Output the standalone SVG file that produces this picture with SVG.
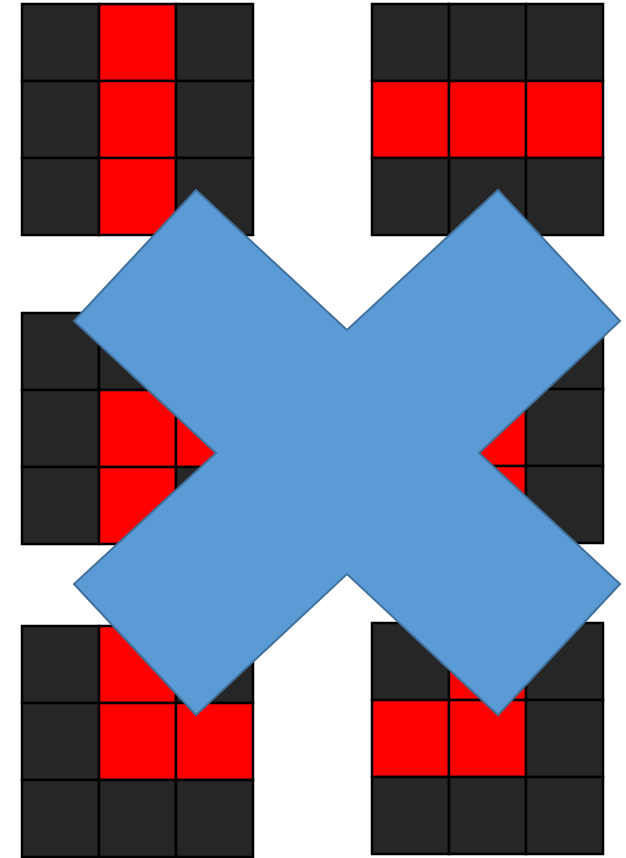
<svg xmlns="http://www.w3.org/2000/svg" width="626" height="858" viewBox="0 0 626 858">
<style>
.d{fill:#262626;stroke:#000;stroke-width:2.5}
.r{fill:#ff0000;stroke:#000;stroke-width:2.5}
.x{fill:#5b9bd5;stroke:#41719c;stroke-width:2}
</style>
<rect width="626" height="858" fill="#fff"/>
<g id="grid1">
<rect class="d" x="22" y="4" width="77" height="77"/><rect class="r" x="99" y="4" width="77" height="77"/><rect class="d" x="176" y="4" width="77" height="77"/>
<rect class="d" x="22" y="81" width="77" height="77"/><rect class="r" x="99" y="81" width="77" height="77"/><rect class="d" x="176" y="81" width="77" height="77"/>
<rect class="d" x="22" y="158" width="77" height="77"/><rect class="r" x="99" y="158" width="77" height="77"/><rect class="d" x="176" y="158" width="77" height="77"/>
</g>
<g id="grid2">
<rect class="d" x="372" y="4" width="77" height="77"/><rect class="d" x="449" y="4" width="77" height="77"/><rect class="d" x="526" y="4" width="77" height="77"/>
<rect class="r" x="372" y="81" width="77" height="77"/><rect class="r" x="449" y="81" width="77" height="77"/><rect class="r" x="526" y="81" width="77" height="77"/>
<rect class="d" x="372" y="158" width="77" height="77"/><rect class="d" x="449" y="158" width="77" height="77"/><rect class="d" x="526" y="158" width="77" height="77"/>
</g>
<g id="grid3">
<rect class="d" x="22" y="313" width="77" height="77"/><rect class="d" x="99" y="313" width="77" height="77"/><rect class="d" x="176" y="313" width="77" height="77"/>
<rect class="d" x="22" y="390" width="77" height="77"/><rect class="r" x="99" y="390" width="77" height="77"/><rect class="r" x="176" y="390" width="77" height="77"/>
<rect class="d" x="22" y="467" width="77" height="77"/><rect class="r" x="99" y="467" width="77" height="77"/><rect class="d" x="176" y="467" width="77" height="77"/>
</g>
<g id="grid4">
<rect class="d" x="372" y="313" width="77" height="77"/><rect class="d" x="449" y="313" width="77" height="77"/><rect class="d" x="526" y="313" width="77" height="77"/>
<rect class="r" x="372" y="389" width="77" height="77"/><rect class="r" x="449" y="389" width="77" height="77"/><rect class="d" x="526" y="389" width="77" height="77"/>
<rect class="d" x="372" y="466" width="77" height="77"/><rect class="r" x="449" y="466" width="77" height="77"/><rect class="d" x="526" y="466" width="77" height="77"/>
</g>
<g id="grid5">
<rect class="d" x="22" y="626" width="77" height="77"/><rect class="r" x="99" y="626" width="77" height="77"/><rect class="d" x="176" y="626" width="77" height="77"/>
<rect class="d" x="22" y="703" width="77" height="77"/><rect class="r" x="99" y="703" width="77" height="77"/><rect class="r" x="176" y="703" width="77" height="77"/>
<rect class="d" x="22" y="780" width="77" height="77"/><rect class="d" x="99" y="780" width="77" height="77"/><rect class="d" x="176" y="780" width="77" height="77"/>
</g>
<g id="grid6">
<rect class="d" x="372" y="623" width="77" height="77"/><rect class="r" x="449" y="623" width="77" height="77"/><rect class="d" x="526" y="623" width="77" height="77"/>
<rect class="r" x="372" y="700" width="77" height="77"/><rect class="r" x="449" y="700" width="77" height="77"/><rect class="d" x="526" y="700" width="77" height="77"/>
<rect class="d" x="372" y="777" width="77" height="77"/><rect class="d" x="449" y="777" width="77" height="77"/><rect class="d" x="526" y="777" width="77" height="77"/>
</g>
<g id="cross">
<polygon class="x" points="196,190 347,330 498,190 620,321 479,453 620,584 498,715 347,574 196,715 74,584 216,453 74,321"/>
</g>
</svg>
